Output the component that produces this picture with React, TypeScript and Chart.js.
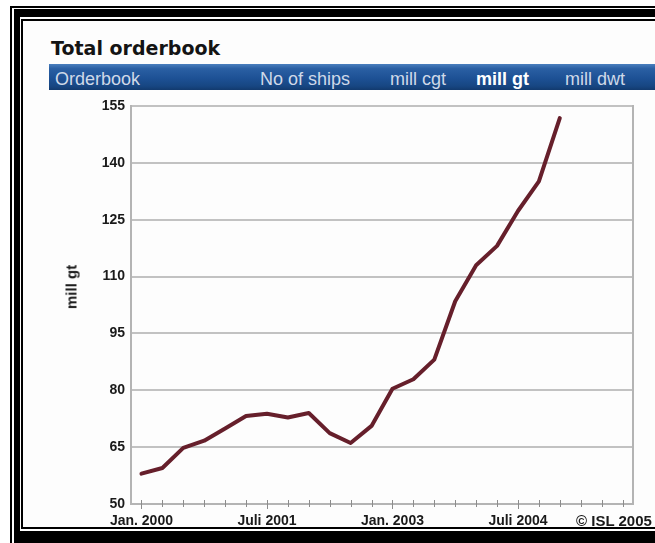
import React, { useEffect, useRef } from 'react';
import { Chart, registerables } from 'chart.js';

Chart.register(...registerables);

// Quarterly categories, Jan. 2000 .. Oct. 2005 (only some labelled)
const quarterLabels = [
  'Jan. 2000', '', '', '', '', '',
  'Juli 2001', '', '', '', '', '',
  'Jan. 2003', '', '', '', '', '',
  'Juli 2004', '', '', '', '', '',
];

// Total orderbook, mill gt (quarterly, Jan. 2000 .. Jan. 2005)
const orderbookMillGt = [
  58, 59.5, 64.8, 66.7, 69.9, 73.2, 73.8, 72.8, 74.0, 68.7, 66.1,
  70.6, 80.4, 82.9, 88.1, 103.5, 113.0, 118.1, 127.3, 135.1, 151.8,
];

const yTickValues = [50, 65, 80, 95, 110, 125, 140, 155];

const tabLabels = ['Orderbook', 'No of ships', 'mill cgt', 'mill gt', 'mill dwt'];
const activeTab = 'mill gt';
const tabLeft = [55, 260, 390, 476, 565];

const titleText = 'Total orderbook';
const yTitle = 'mill gt';
const creditText = '\u00A9 ISL 2005';

const SANS = "'Liberation Sans', Arial, Helvetica, sans-serif";

function Bar(props: { l: number; t: number; w: number; h: number }) {
  return (
    <div
      style={{
        position: 'absolute',
        left: props.l,
        top: props.t,
        width: props.w,
        height: props.h,
        background: '#000',
      }}
    />
  );
}

export default function App() {
  const canvasRef = useRef<HTMLCanvasElement | null>(null);

  useEffect(() => {
    const canvas = canvasRef.current;
    if (!canvas) return;

    const framePlugin = {
      id: 'frameAndTicks',
      afterDraw(chart: any) {
        const { ctx, chartArea } = chart;
        ctx.save();
        ctx.strokeStyle = '#b4b4b4';
        ctx.lineWidth = 2;
        ctx.beginPath();
        ctx.moveTo(chartArea.right, chartArea.top - 1);
        ctx.lineTo(chartArea.right, chartArea.bottom);
        ctx.stroke();
        const xs = chart.scales.x;
        ctx.strokeStyle = '#8c8c8c';
        ctx.lineWidth = 1;
        xs.ticks.forEach((tk: any, i: number) => {
          const px = Math.round(xs.getPixelForTick(i)) + 0.5;
          const major = quarterLabels[i] !== '';
          ctx.beginPath();
          ctx.moveTo(px, chartArea.bottom - 4);
          ctx.lineTo(px, chartArea.bottom + (major ? 5 : 3));
          ctx.stroke();
        });
        ctx.restore();
      },
    };

    const chart = new Chart(canvas, {
      type: 'line',
      data: {
        labels: quarterLabels,
        datasets: [
          {
            data: orderbookMillGt,
            borderColor: '#661f2b',
            borderWidth: 4,
            pointRadius: 0,
            tension: 0,
            fill: false,
            borderCapStyle: 'round',
            borderJoinStyle: 'round',
          },
        ],
      },
      options: {
        animation: false,
        responsive: false,
        devicePixelRatio: 1,
        layout: { padding: { left: 0, top: 16, right: 22, bottom: 0 } },
        plugins: {
          legend: { display: false },
          tooltip: { enabled: false },
        },
        scales: {
          x: {
            type: 'category',
            offset: true,
            grid: {
              display: true,
              drawOnChartArea: false,
              drawTicks: true,
              tickLength: 5,
              color: 'rgba(0,0,0,0)',
              lineWidth: 1,
            },
            border: { display: true, color: '#b4b4b4', width: 2 },
            ticks: {
              autoSkip: false,
              maxRotation: 0,
              minRotation: 0,
              padding: 4,
              color: '#1a1a1a',
              font: { family: SANS, size: 14, weight: 'bold' },
            },
            afterFit: (s: any) => {
              s.height = 22;
            },
          },
          y: {
            min: 50,
            max: 155,
            afterBuildTicks: (s: any) => {
              s.ticks = yTickValues.map((v) => ({ value: v }));
            },
            grid: { color: '#c2c2c2', lineWidth: 2, drawTicks: false },
            border: { display: true, color: '#b4b4b4', width: 2 },
            ticks: {
              padding: 6,
              color: '#1a1a1a',
              font: { family: SANS, size: 14, weight: 'bold' },
            },
            afterFit: (s: any) => {
              s.width = 101;
            },
          },
        },
      } as any,
      plugins: [framePlugin],
    });

    return () => {
      chart.destroy();
    };
  }, []);

  return (
    <div
      style={{
        position: 'absolute',
        left: 0,
        top: 0,
        width: 655,
        height: 543,
        overflow: 'hidden',
        background: '#ffffff',
      }}
    >
      {/* inner panel background */}
      <div
        style={{
          position: 'absolute',
          left: 23,
          top: 21,
          width: 632,
          height: 506,
          background: '#fdfdfd',
        }}
      />
      {/* frame: outer thin lines */}
      <Bar l={10} t={6} w={645} h={2} />
      <Bar l={10} t={6} w={2} h={537} />
      {/* frame: thick lines */}
      <Bar l={14} t={9} w={641} h={8} />
      <Bar l={14} t={9} w={6} h={534} />
      <Bar l={14} t={531} w={641} h={12} />
      {/* frame: inner thin lines */}
      <Bar l={21} t={19} w={634} h={2} />
      <Bar l={21} t={19} w={2} h={510} />
      <Bar l={21} t={527} w={634} h={2} />
      {/* title */}
      <div
        style={{
          position: 'absolute',
          left: 51,
          top: 39,
          fontFamily: "'DejaVu Sans', Verdana, sans-serif",
          fontWeight: 'bold',
          fontSize: 19,
          lineHeight: '19px',
          color: '#141414',
          whiteSpace: 'nowrap',
        }}
      >
        {titleText}
      </div>
      {/* blue tab bar */}
      <div
        style={{
          position: 'absolute',
          left: 49,
          top: 64,
          width: 606,
          height: 26,
          background:
            'linear-gradient(to bottom, #4a7fbe 0%, #2a5fa3 18%, #1d5195 55%, #174682 85%, #123a6e 100%)',
        }}
      />
      {tabLabels.map((t, i) => (
        <div
          key={t}
          style={{
            position: 'absolute',
            left: tabLeft[i],
            top: 70,
            fontFamily: SANS,
            fontSize: 18,
            lineHeight: '18px',
            fontWeight: t === activeTab ? 'bold' : 'normal',
            color: t === activeTab ? '#ffffff' : '#cfd9e8',
            whiteSpace: 'nowrap',
          }}
        >
          {t}
        </div>
      ))}
      <canvas
        ref={canvasRef}
        width={625}
        height={436}
        style={{ position: 'absolute', left: 30, top: 90, width: 625, height: 436 }}
      />
      {/* y-axis title */}
      <div
        style={{
          position: 'absolute',
          left: 71,
          top: 287,
          transform: 'translate(-50%, -50%) rotate(-90deg)',
          fontFamily: SANS,
          fontWeight: 'bold',
          fontSize: 15,
          lineHeight: '15px',
          color: '#1a1a1a',
          whiteSpace: 'nowrap',
        }}
      >
        {yTitle}
      </div>
      <div
        style={{
          position: 'absolute',
          left: 576,
          top: 513,
          fontFamily: SANS,
          fontWeight: 'bold',
          fontSize: 15,
          lineHeight: '15px',
          color: '#1a1a1a',
          whiteSpace: 'nowrap',
        }}
      >
        {creditText}
      </div>
    </div>
  );
}
